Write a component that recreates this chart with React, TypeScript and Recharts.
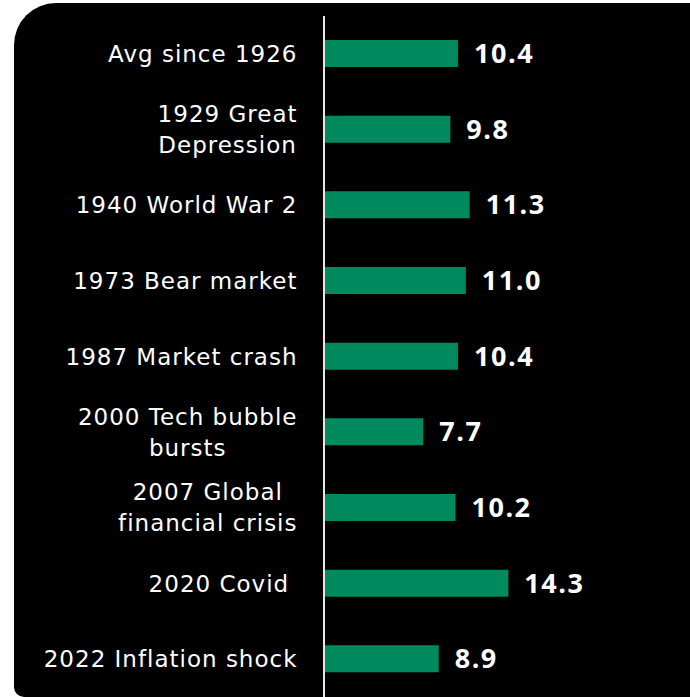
import { BarChart, Bar, XAxis, YAxis, LabelList } from "recharts";

// 事件名称（多行标签用数组）
const events: string[][] = [
    ["Avg since 1926"],
    ["1929 Great", "Depression"],
    ["1940 World War 2"],
    ["1973 Bear market"],
    ["1987 Market crash"],
    ["2000 Tech bubble", "bursts"],
    ["2007 Global", "financial crisis"],
    ["2020 Covid\u00a0"],
    ["2022 Inflation shock"],
];

// 年化回报
const returns = [10.4, 9.8, 11.3, 11.0, 10.4, 7.7, 10.2, 14.3, 8.9];

const data = events.map((lines, i) => ({
    name: lines.join("\n"),
    value: returns[i],
}));

const LABEL_SIZE = 23;
const LABEL_SPACING = 1.0;
const LINE_HEIGHT = 31;

let ctx: CanvasRenderingContext2D | null = null;
function measure(text: string) {
    if (!ctx) ctx = document.createElement("canvas").getContext("2d");
    if (!ctx) return text.length * 13;
    ctx.font = `${LABEL_SIZE}px 'DejaVu Sans'`;
    return ctx.measureText(text).width + text.length * LABEL_SPACING;
}

// 左侧标签：整体右对齐，多行之间居中
function EventTick(props: any) {
    const { x, y, payload } = props;
    const lines: string[] = String(payload.value).split("\n");
    const w = Math.max(...lines.map(measure));
    const cx = x - w / 2;
    const top = y - ((lines.length - 1) * LINE_HEIGHT) / 2;
    return (
        <text
            fill="#ffffff"
            fontFamily="'DejaVu Sans', sans-serif"
            fontSize={LABEL_SIZE}
            letterSpacing={LABEL_SPACING}
            textAnchor="middle"
            dominantBaseline="central"
        >
            {lines.map((l, i) => (
                <tspan key={i} x={cx + LABEL_SPACING / 2} y={top + i * LINE_HEIGHT}>
                    {l}
                </tspan>
            ))}
        </text>
    );
}

export default function App() {
    return (
        <div style={{ position: "absolute", left: 0, top: 0, width: 690, height: 697, background: "#fff" }}>
            <div
                style={{
                    position: "absolute",
                    left: 14,
                    top: 3,
                    width: 676,
                    height: 694,
                    background: "#000",
                    borderTopLeftRadius: 42,
                    borderBottomLeftRadius: 10,
                }}
            />
            <div style={{ position: "absolute", left: 0, top: 0 }}>
                <BarChart
                    width={690}
                    height={697}
                    data={data}
                    layout="vertical"
                    margin={{ top: 16, right: 5, left: 0, bottom: 0 }}
                >
                    <XAxis type="number" domain={[0, 28]} hide />
                    <YAxis
                        type="category"
                        dataKey="name"
                        width={324}
                        tick={<EventTick />}
                        tickLine={false}
                        tickSize={0}
                        tickMargin={27}
                        axisLine={{ stroke: "#e6e6e6", strokeWidth: 2 }}
                        interval={0}
                    />
                    <Bar dataKey="value" fill="#008a5e" barSize={27} isAnimationActive={false}>
                        <LabelList
                            dataKey="value"
                            position="right"
                            offset={16}
                            formatter={(v: any) => Number(v).toFixed(1)}
                            fill="#ffffff"
                            fontFamily="'Open Sans', sans-serif"
                            fontWeight={700}
                            fontSize={27}
                            letterSpacing={1.5}
                        />
                    </Bar>
                </BarChart>
            </div>
        </div>
    );
}
